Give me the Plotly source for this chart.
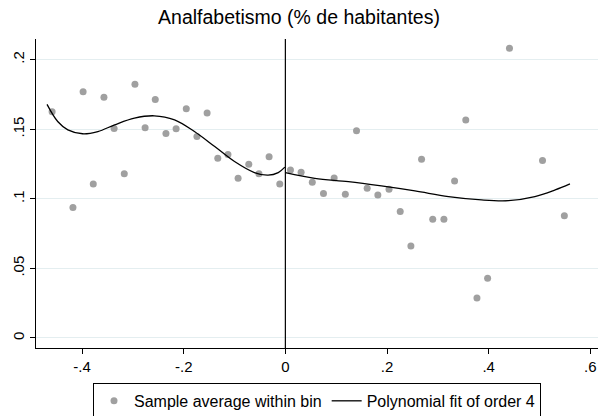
import plotly.graph_objects as go

# Binned sample averages
bin_x = [-0.459, -0.418, -0.398, -0.378, -0.357, -0.337, -0.317, -0.296, -0.276, -0.256,
         -0.235, -0.215, -0.195, -0.174, -0.154, -0.133, -0.113, -0.093, -0.072, -0.052,
         -0.032, -0.011,
         0.010, 0.031, 0.053, 0.075, 0.096, 0.118, 0.140, 0.161, 0.182, 0.204,
         0.226, 0.247, 0.268, 0.290, 0.312, 0.333, 0.355, 0.377, 0.398, 0.441,
         0.506, 0.549]
bin_y = [0.1626, 0.0937, 0.1770, 0.1107, 0.1730, 0.1506, 0.1180, 0.1823, 0.1511, 0.1715,
         0.1470, 0.1504, 0.1648, 0.1448, 0.1617, 0.1292, 0.1319, 0.1148, 0.1249, 0.1180,
         0.1302, 0.1107,
         0.1208, 0.1191, 0.1120, 0.1038, 0.1150, 0.1033, 0.1490, 0.1076, 0.1028, 0.1069,
         0.0910, 0.0661, 0.1285, 0.0853, 0.0853, 0.1129, 0.1566, 0.0288, 0.0430, 0.2082,
         0.1275, 0.0879]

# Polynomial fit (order 4), left of cutoff
fitL_x = [-0.469, -0.448, -0.428, -0.399, -0.369, -0.336, -0.297, -0.258, -0.218, -0.179,
          -0.139, -0.100, -0.061, -0.034, -0.014, -0.001]
fitL_y = [0.1679, 0.1556, 0.1496, 0.1468, 0.1484, 0.1532, 0.1580, 0.1597, 0.1568, 0.1484,
          0.1376, 0.1268, 0.1189, 0.1170, 0.1189, 0.1228]
# Polynomial fit (order 4), right of cutoff
fitR_x = [0.000, 0.058, 0.124, 0.189, 0.255, 0.321, 0.386, 0.439, 0.491, 0.531, 0.560]
fitR_y = [0.1189, 0.1148, 0.1124, 0.1093, 0.1057, 0.1016, 0.0992, 0.0987, 0.1016, 0.1064, 0.1107]

x_ticks = [-0.4, -0.2, 0, 0.2, 0.4, 0.6]
x_labels = ["-.4", "-.2", "0", ".2", ".4", ".6"]
y_ticks = [0, 0.05, 0.1, 0.15, 0.2]
y_labels = ["0", ".05", ".1", ".15", ".2"]

FONT = "Liberation Sans, Arial, sans-serif"

fig = go.Figure()
fig.add_trace(go.Scatter(x=bin_x, y=bin_y, mode="markers", name="Sample average within bin",
                         marker=dict(color="#a0a0a0", size=7, line=dict(width=0))))
fig.add_trace(go.Scatter(x=fitL_x, y=fitL_y, mode="lines", name="Polynomial fit of order 4",
                         line=dict(color="black", width=1.3, shape="spline")))
fig.add_trace(go.Scatter(x=fitR_x, y=fitR_y, mode="lines", name="Polynomial fit of order 4",
                         showlegend=False, line=dict(color="black", width=1.3, shape="spline")))

fig.add_vline(x=0, line=dict(color="black", width=1.2))

fig.update_layout(
    width=598, height=416,
    margin=dict(l=36, r=0, t=39, b=68, autoexpand=False),
    paper_bgcolor="white", plot_bgcolor="white",
    font=dict(family=FONT, color="black", size=15),
    title=dict(text="Analfabetismo (% de habitantes)", x=0.5, xref="container",
               y=1 - 17 / 416, yanchor="middle", yref="container",
               font=dict(size=19.5, family=FONT, color="black")),
    xaxis=dict(range=[-0.4907, 0.6152], tickvals=x_ticks, ticktext=x_labels,
               showline=True, linecolor="black", linewidth=1, ticks="outside",
               ticklen=5, tickcolor="black", showgrid=False, zeroline=False,
               tickfont=dict(size=15), automargin=False),
    yaxis=dict(range=[-0.0072, 0.2149], tickvals=y_ticks, ticktext=y_labels,
               showline=True, linecolor="black", linewidth=1, ticks="outside",
               ticklen=5, tickcolor="black", showgrid=True, gridcolor="#e4eef0",
               gridwidth=1, zeroline=False, tickangle=-90, tickfont=dict(size=15),
               automargin=False),
    legend=dict(orientation="h", x=0.5, xanchor="center", y=-0.113, yanchor="top",
                bordercolor="black", borderwidth=1, bgcolor="white",
                font=dict(size=16, family=FONT), itemwidth=30,
                tracegroupgap=0),
    showlegend=True,
)

fig.write_html("out.html", config={"displayModeBar": False},
               post_script="document.body.style.margin='0px';")
